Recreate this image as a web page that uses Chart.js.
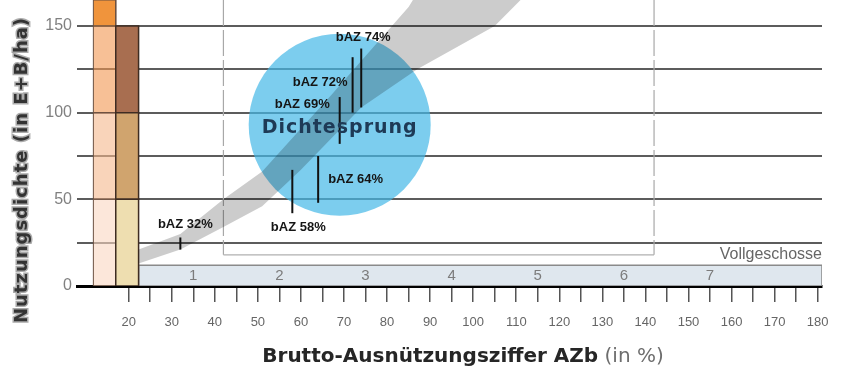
<!DOCTYPE html>
<html>
<head>
<meta charset="utf-8">
<script src="https://cdn.jsdelivr.net/npm/chart.js@4.4.0/dist/chart.umd.min.js"></script>
<style>
  html, body { margin: 0; padding: 0; background: #fff; }
  #wrap { width: 844px; height: 376px; position: relative; }
</style>
</head>
<body>
<div id="wrap"><canvas id="density-chart"></canvas></div>
<script>
// bAZ markers: x value and the density span each one covers
const bazValues = [32, 58, 64, 69, 72, 74];
const bazLow = [21, 42, 48, 82, 100, 103];
const bazHigh = [28, 67, 75, 109, 132, 137];

// full storeys along the bottom strip
const floorLabels = ['1', '2', '3', '4', '5', '6', '7'];
const floorAt = [35, 55, 75, 95, 115, 135, 155];

// diagonal band: upper edge going up, lower edge coming back down
const bandUpper = [[22.3, 21], [32, 30], [42, 50], [51, 66], [67, 110], [85, 161], [86, 165]];
const bandLower = [[111, 165], [105, 150], [87, 125], [74, 103], [60, 67], [51, 46], [42, 34], [32, 21], [22.3, 13]];

// Dichtesprung bubble centre
const jumpCentre = { x: 69, y: 93 };

// the two coloured columns on the left
const columnEdges = [11.8, 17, 22.3];
const columnBreaks = [0, 50, 100, 150, 165];

// storey strip and the dashed bracket above it
const stripTop = 12;
const stripEnd = 181;
const bracketX = [42, 142];
const bracketBase = 18;

const xTicksFrom = 20;

function pts(list) {
    return list.map(p => ({ x: p[0], y: p[1] }));
}

function rect(x0, x1, y0, y1) {
    return [{ x: x0, y: y0 }, { x: x0, y: y1 }, { x: x1, y: y1 }, { x: x1, y: y0 }, { x: x0, y: y0 }];
}

function shape(data, fillColor, lineColor, lineWidth, order) {
    return {
        type: 'line', data: data, fill: 'shape', order: order,
        backgroundColor: fillColor, borderColor: lineColor, borderWidth: lineWidth,
        pointRadius: 0
    };
}

function segment(data, color, width, dash, order) {
    return {
        type: 'line', data: data, fill: false, order: order,
        borderColor: color, borderWidth: width, borderDash: dash, pointRadius: 0
    };
}

// no label padding on either axis, the chart area runs to the edges
function noPadding(scale) {
    scale.paddingTop = 0;
    scale.paddingBottom = 0;
    scale.paddingLeft = 0;
    scale.paddingRight = 0;
}

const datasets = [];

// storey strip at the bottom
datasets.push(shape(rect(columnEdges[2], stripEnd, 0, stripTop), '#dfe7ee', '#8a8a8a', 1.5, 20));

// left column fades from orange, right column goes from pale to brown
const leftColours = ['rgba(250,215,193,0.6)', 'rgba(245,183,140,0.6)', 'rgba(242,150,80,0.6)', '#f0943c'];
const rightColours = ['#eedeb0', '#d0a46e', '#a86e50'];
for (let i = 0; i < 4; i++) {
    datasets.push(shape(rect(columnEdges[0], columnEdges[1], columnBreaks[i], columnBreaks[i + 1]),
        leftColours[i], '#6b5040', 1, 18));
}
for (let i = 0; i < 3; i++) {
    datasets.push(shape(rect(columnEdges[1], columnEdges[2], columnBreaks[i], columnBreaks[i + 1]),
        rightColours[i], '#3e2c22', 1.5, 17));
}

// bracket over storeys 2 to 6
datasets.push(segment([{ x: bracketX[0], y: 165 }, { x: bracketX[0], y: bracketBase }], '#a8a8a8', 1.2, [26, 4], 15));
datasets.push(segment([{ x: bracketX[1], y: 165 }, { x: bracketX[1], y: bracketBase }], '#a8a8a8', 1.2, [26, 4], 15));
datasets.push(segment([{ x: bracketX[0], y: bracketBase }, { x: bracketX[1], y: bracketBase }], '#b0b0b0', 1.2, [], 15));

// the Dichtesprung bubble
datasets.push({
    type: 'line', data: [jumpCentre], showLine: false, order: 12,
    pointRadius: 91, pointHoverRadius: 91, pointBorderWidth: 0,
    pointBackgroundColor: 'rgba(69,184,231,0.7)'
});

// grey band through the chart
datasets.push(shape(pts(bandUpper.concat(bandLower)), 'rgba(0,0,0,0.2)', 'rgba(0,0,0,0)', 0, 10));

// black marker strokes
bazValues.forEach((v, i) => {
    datasets.push(segment([{ x: v, y: bazLow[i] }, { x: v, y: bazHigh[i] }], '#111', 2, [], 1));
});

// where each bAZ label sits next to its stroke
const labelSpots = [
    { side: 'above', dx: 5, dy: -13 },
    { side: 'below', dx: 6, dy: 14 },
    { side: 'right', dx: 10, dy: 0 },
    { side: 'left', dx: -10, dy: 7 },
    { side: 'left', dx: -5, dy: 25 },
    { side: 'above', dx: 2, dy: -11 }
];

const textPlugin = {
    id: 'drawnText',
    afterDatasetsDraw(chart) {
        const ctx = chart.ctx;
        const x = chart.scales.x;
        const y = chart.scales.y;
        ctx.save();

        // bAZ labels
        ctx.font = 'bold 13px "Liberation Sans", Arial, sans-serif';
        ctx.fillStyle = '#151515';
        ctx.textBaseline = 'middle';
        bazValues.forEach((v, i) => {
            const px = x.getPixelForValue(v);
            const top = y.getPixelForValue(bazHigh[i]);
            const bottom = y.getPixelForValue(bazLow[i]);
            const spot = labelSpots[i];
            const text = 'bAZ ' + v + '%';
            if (spot.side === 'above') {
                ctx.textAlign = 'center';
                ctx.fillText(text, px + spot.dx, top + spot.dy);
            } else if (spot.side === 'below') {
                ctx.textAlign = 'center';
                ctx.fillText(text, px + spot.dx, bottom + spot.dy);
            } else if (spot.side === 'right') {
                ctx.textAlign = 'left';
                ctx.fillText(text, px + spot.dx, (top + bottom) / 2 + spot.dy);
            } else {
                ctx.textAlign = 'right';
                ctx.fillText(text, px + spot.dx, top + spot.dy);
            }
        });

        // title inside the bubble
        ctx.font = 'bold 19px "DejaVu Sans", sans-serif';
        ctx.letterSpacing = '1px';
        ctx.fillStyle = '#1e3a56';
        ctx.textAlign = 'center';
        ctx.fillText('Dichtesprung', x.getPixelForValue(jumpCentre.x), y.getPixelForValue(jumpCentre.y) + 3);
        ctx.letterSpacing = '0px';

        // storey numbers
        ctx.font = '15px "Liberation Sans", Arial, sans-serif';
        ctx.fillStyle = '#7c7c7c';
        floorLabels.forEach((t, i) => {
            ctx.fillText(t, x.getPixelForValue(floorAt[i]), y.getPixelForValue(stripTop / 2));
        });

        ctx.font = '16px "Liberation Sans", Arial, sans-serif';
        ctx.fillStyle = '#666';
        ctx.textAlign = 'right';
        ctx.fillText('Vollgeschosse', x.getPixelForValue(stripEnd), y.getPixelForValue(bracketBase));

        // x axis title, bold part plus "(in %)"
        const boldPart = 'Brutto-Ausnützungsziffer AZb';
        const thinPart = ' (in %)';
        ctx.font = 'bold 20px "DejaVu Sans", sans-serif';
        const w1 = ctx.measureText(boldPart).width;
        ctx.font = '20px "DejaVu Sans", sans-serif';
        const w2 = ctx.measureText(thinPart).width;
        const startX = 463 - (w1 + w2) / 2;
        ctx.textAlign = 'left';
        ctx.font = 'bold 20px "DejaVu Sans", sans-serif';
        ctx.fillStyle = '#262626';
        ctx.fillText(boldPart, startX, 357);
        ctx.font = '20px "DejaVu Sans", sans-serif';
        ctx.fillStyle = '#6e6e6e';
        ctx.fillText(thinPart, startX + w1, 357);

        // y axis title, rotated
        ctx.translate(22, 170);
        ctx.rotate(-Math.PI / 2);
        ctx.textAlign = 'center';
        ctx.font = 'bold 18px "DejaVu Sans", sans-serif';
        ctx.letterSpacing = '1px';
        ctx.lineWidth = 3;
        ctx.strokeStyle = 'rgba(150,150,150,0.8)';
        ctx.strokeText('Nutzungsdichte (in E+B/ha)', 0, 0);
        ctx.fillStyle = '#333';
        ctx.fillText('Nutzungsdichte (in E+B/ha)', 0, 0);
        ctx.restore();
    }
};

new Chart(document.getElementById('density-chart').getContext('2d'), {
    type: 'line',
    data: { datasets: datasets },
    plugins: [textPlugin],
    options: {
        responsive: true,
        maintainAspectRatio: false,
        animation: false,
        events: [],
        layout: { autoPadding: false, padding: { left: 0, right: 22, top: 0, bottom: 0 } },
        plugins: { legend: { display: false }, tooltip: { enabled: false } },
        scales: {
            x: {
                type: 'linear',
                min: 8,
                max: 181,
                afterFit: scale => { scale.height = 90; noPadding(scale); },
                afterBuildTicks: scale => { scale.ticks = scale.ticks.filter(t => t.value >= xTicksFrom); },
                border: { color: '#000', width: 3 },
                grid: { drawOnChartArea: false, drawTicks: true, tickLength: 16, color: '#555', lineWidth: 1.5 },
                ticks: {
                    stepSize: 5,
                    includeBounds: false,
                    autoSkip: false,
                    maxRotation: 0,
                    padding: 13,
                    color: '#666',
                    font: { family: '"Liberation Sans", Arial, sans-serif', size: 13 },
                    callback: v => (v % 10 === 0 ? v : '')
                }
            },
            y: {
                min: 0,
                max: 165,
                afterFit: scale => { scale.width = 77; noPadding(scale); },
                border: { display: false },
                grid: { drawTicks: false, color: '#5c5c5c', lineWidth: 2 },
                ticks: {
                    stepSize: 25,
                    includeBounds: false,
                    padding: 5,
                    color: '#808080',
                    font: { family: '"Liberation Sans", Arial, sans-serif', size: 16 },
                    callback: v => (v % 50 === 0 ? v : '')
                }
            }
        }
    }
});
</script>
</body>
</html>
